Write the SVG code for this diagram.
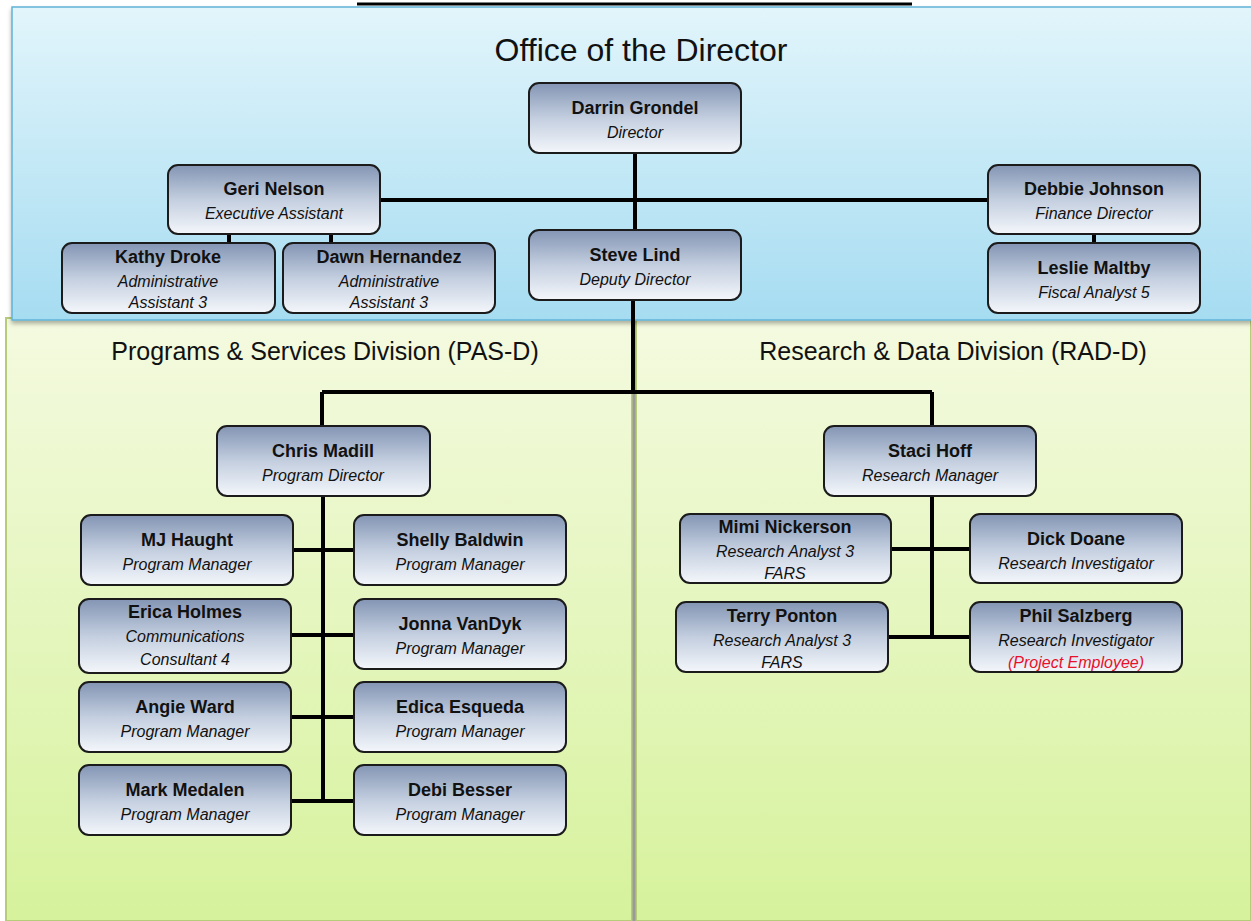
<svg xmlns="http://www.w3.org/2000/svg" width="1251" height="921" viewBox="0 0 1251 921">
<defs>
<linearGradient id="blueBg" x1="0" y1="0" x2="0" y2="1">
<stop offset="0" stop-color="#e2f5fb"/>
<stop offset="1" stop-color="#a6dcf1"/>
</linearGradient>
<linearGradient id="greenBg" x1="0" y1="0" x2="0" y2="1">
<stop offset="0" stop-color="#f4fae0"/>
<stop offset="1" stop-color="#d6f29c"/>
</linearGradient>
<linearGradient id="node" x1="0" y1="0" x2="0" y2="1">
<stop offset="0" stop-color="#8395b4"/>
<stop offset="0.5" stop-color="#c3cedf"/>
<stop offset="1" stop-color="#f4f7fb"/>
</linearGradient>
<filter id="sh" x="-5%" y="-5%" width="110%" height="115%">
<feDropShadow dx="0" dy="3" stdDeviation="2" flood-color="#000" flood-opacity="0.3"/>
</filter>
</defs>
<style>
.box{fill:url(#node);stroke:#1b1b1b;stroke-width:2}
.nm{font-family:"Liberation Sans",Arial,sans-serif;font-weight:bold;font-size:18px;fill:#111;text-anchor:middle}
.rl{font-family:"Liberation Sans",Arial,sans-serif;font-style:italic;font-size:16px;fill:#111;text-anchor:middle}
.red{fill:#e8102a}
.hd{font-family:"Liberation Sans",Arial,sans-serif;fill:#111;text-anchor:middle}
.ln{stroke:#000;stroke-width:4;fill:none}
</style>
<rect width="1251" height="921" fill="#ffffff"/>
<line x1="357" y1="4" x2="912" y2="4" stroke="#000" stroke-width="3"/>
<g id="panels">
<rect x="6" y="318" width="626" height="603" fill="url(#greenBg)" stroke="#b7cc7a" stroke-width="2"/>
<rect x="636" y="318" width="615" height="603" fill="url(#greenBg)" stroke="#b7cc7a" stroke-width="2"/>
<line x1="634" y1="318" x2="634" y2="921" stroke="#9a9a9a" stroke-width="3"/>
<rect x="12" y="7" width="1240" height="313" fill="url(#blueBg)" stroke="#5fb3d6" stroke-width="1.5" filter="url(#sh)"/>
<text class="hd" x="641" y="61" font-size="32">Office of the Director</text>
<text class="hd" x="325" y="360" font-size="25">Programs &amp; Services Division (PAS-D)</text>
<text class="hd" x="953" y="360" font-size="25">Research &amp; Data Division (RAD-D)</text>
</g>
<g id="connectors">
<path class="ln" d="M635 153V230M380 200H988M229 234V243M331 234V243M1094 234V243"/>
<path class="ln" d="M633 300V392M322 392H932M322 392V426M932 392V426"/>
<path class="ln" d="M323 496V801M293 550H354M291 635H354M291 717H354M291 801H354"/>
<path class="ln" d="M932 496V637M891 549H970M888 637H970"/>
</g>
<g id="darrin"><rect class="box" x="529" y="83" width="212" height="70" rx="10"/><text class="nm" x="635" y="114">Darrin Grondel</text><text class="rl" x="635" y="138">Director</text></g>
<g id="geri"><rect class="box" x="168" y="165" width="212" height="69" rx="10"/><text class="nm" x="274" y="195">Geri Nelson</text><text class="rl" x="274" y="219">Executive Assistant</text></g>
<g id="debbie"><rect class="box" x="988" y="165" width="212" height="69" rx="10"/><text class="nm" x="1094" y="195">Debbie Johnson</text><text class="rl" x="1094" y="219">Finance Director</text></g>
<g id="kathy"><rect class="box" x="62" y="243" width="213" height="70" rx="10"/><text class="nm" x="168" y="263">Kathy Droke</text><text class="rl" x="168" y="287">Administrative</text><text class="rl" x="168" y="308">Assistant 3</text></g>
<g id="dawn"><rect class="box" x="283" y="243" width="212" height="70" rx="10"/><text class="nm" x="389" y="263">Dawn Hernandez</text><text class="rl" x="389" y="287">Administrative</text><text class="rl" x="389" y="308">Assistant 3</text></g>
<g id="steve"><rect class="box" x="529" y="230" width="212" height="70" rx="10"/><text class="nm" x="635" y="261">Steve Lind</text><text class="rl" x="635" y="285">Deputy Director</text></g>
<g id="leslie"><rect class="box" x="988" y="243" width="212" height="70" rx="10"/><text class="nm" x="1094" y="274">Leslie Maltby</text><text class="rl" x="1094" y="298">Fiscal Analyst 5</text></g>
<g id="chris"><rect class="box" x="217" y="426" width="213" height="70" rx="10"/><text class="nm" x="323" y="457">Chris Madill</text><text class="rl" x="323" y="481">Program Director</text></g>
<g id="staci"><rect class="box" x="824" y="426" width="212" height="70" rx="10"/><text class="nm" x="930" y="457">Staci Hoff</text><text class="rl" x="930" y="481">Research Manager</text></g>
<g id="mj"><rect class="box" x="81" y="515" width="212" height="70" rx="10"/><text class="nm" x="187" y="546">MJ Haught</text><text class="rl" x="187" y="570">Program Manager</text></g>
<g id="shelly"><rect class="box" x="354" y="515" width="212" height="70" rx="10"/><text class="nm" x="460" y="546">Shelly Baldwin</text><text class="rl" x="460" y="570">Program Manager</text></g>
<g id="erica"><rect class="box" x="79" y="599" width="212" height="74" rx="10"/><text class="nm" x="185" y="618">Erica Holmes</text><text class="rl" x="185" y="642">Communications</text><text class="rl" x="185" y="665">Consultant 4</text></g>
<g id="jonna"><rect class="box" x="354" y="599" width="212" height="70" rx="10"/><text class="nm" x="460" y="630">Jonna VanDyk</text><text class="rl" x="460" y="654">Program Manager</text></g>
<g id="angie"><rect class="box" x="79" y="682" width="212" height="70" rx="10"/><text class="nm" x="185" y="713">Angie Ward</text><text class="rl" x="185" y="737">Program Manager</text></g>
<g id="edica"><rect class="box" x="354" y="682" width="212" height="70" rx="10"/><text class="nm" x="460" y="713">Edica Esqueda</text><text class="rl" x="460" y="737">Program Manager</text></g>
<g id="mark"><rect class="box" x="79" y="765" width="212" height="70" rx="10"/><text class="nm" x="185" y="796">Mark Medalen</text><text class="rl" x="185" y="820">Program Manager</text></g>
<g id="debi"><rect class="box" x="354" y="765" width="212" height="70" rx="10"/><text class="nm" x="460" y="796">Debi Besser</text><text class="rl" x="460" y="820">Program Manager</text></g>
<g id="mimi"><rect class="box" x="680" y="514" width="211" height="69" rx="10"/><text class="nm" x="785" y="533">Mimi Nickerson</text><text class="rl" x="785" y="557">Research Analyst 3</text><text class="rl" x="785" y="579">FARS</text></g>
<g id="dick"><rect class="box" x="970" y="514" width="212" height="69" rx="10"/><text class="nm" x="1076" y="545">Dick Doane</text><text class="rl" x="1076" y="569">Research Investigator</text></g>
<g id="terry"><rect class="box" x="676" y="602" width="212" height="70" rx="10"/><text class="nm" x="782" y="622">Terry Ponton</text><text class="rl" x="782" y="646">Research Analyst 3</text><text class="rl" x="782" y="668">FARS</text></g>
<g id="phil"><rect class="box" x="970" y="602" width="212" height="70" rx="10"/><text class="nm" x="1076" y="622">Phil Salzberg</text><text class="rl" x="1076" y="646">Research Investigator</text><text class="rl red" x="1076" y="668">(Project Employee)</text></g>
</svg>
